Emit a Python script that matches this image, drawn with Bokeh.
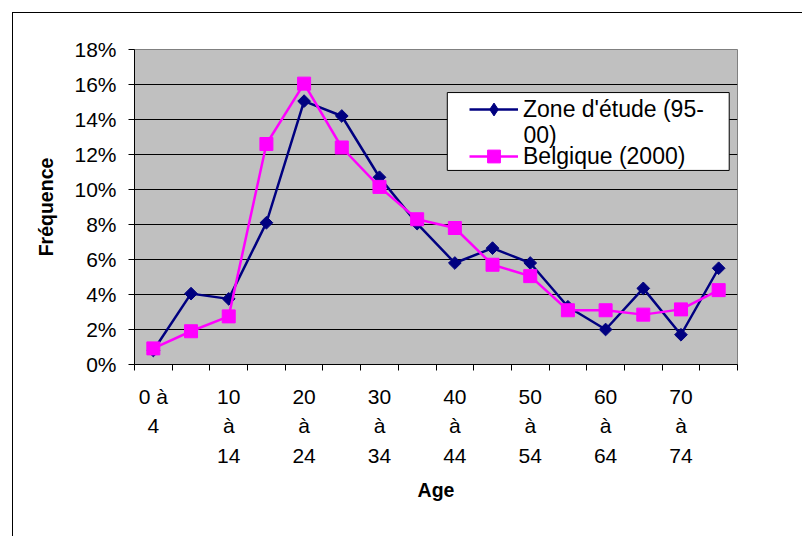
import numpy as np
from bokeh.plotting import figure
from bokeh.models import (FixedTicker, PrintfTickFormatter, Legend, LegendItem, Range1d,
                          ColumnDataSource, Label)
from bokeh.embed import file_html
from bokeh.resources import INLINE

# ---- data ----
age_groups = ["0-4", "5-9", "10-14", "15-19", "20-24", "25-29", "30-34", "35-39",
              "40-44", "45-49", "50-54", "55-59", "60-64", "65-69", "70-74", "75+"]
zone_etude = [0.8, 4.05, 3.75, 8.1, 15.05, 14.2, 10.7, 8.05,
              5.8, 6.65, 5.8, 3.3, 2.0, 4.35, 1.7, 5.5]
belgique = [0.92, 1.9, 2.75, 12.6, 16.05, 12.4, 10.15, 8.3,
            7.8, 5.7, 5.05, 3.1, 3.1, 2.85, 3.15, 4.25]
x_tick_labels = ["0 à\n4", "10\nà\n14", "20\nà\n24", "30\nà\n34",
                 "40\nà\n44", "50\nà\n54", "60\nà\n64", "70\nà\n74"]
y_ticks = [0, 2, 4, 6, 8, 10, 12, 14, 16, 18]
series_names = ["Zone d'étude (95-", "00)", "Belgique (2000)"]  # first name wraps onto 2 lines

FONT = "Liberation Sans"
n = len(age_groups)
x = np.arange(n) + 0.5
label_pos = [float(v) for v in x[::2]]

src1 = ColumnDataSource(dict(x=x, y=zone_etude))
src2 = ColumnDataSource(dict(x=x, y=belgique))

p = figure(width=790, height=524, x_range=Range1d(0, n), y_range=Range1d(0, y_ticks[-1]),
           output_backend="svg", toolbar_location=None,
           min_border_left=121, min_border_right=66, min_border_top=36, min_border_bottom=173,
           background_fill_color="#C0C0C0", border_fill_color="white",
           outline_line_color="#808080", outline_line_width=1)
p.styles = {"border-left": "1px solid black", "border-top": "1px solid black",
            "margin-left": "12px", "margin-top": "12px"}

# x axis
xa = p.xaxis[0]
xa.ticker = FixedTicker(ticks=label_pos, minor_ticks=list(range(n + 1)))
xa.major_label_overrides = {pos: lab for pos, lab in zip(label_pos, x_tick_labels)}
xa.major_tick_line_color = None
xa.major_tick_out = 0
xa.major_tick_in = 0
xa.minor_tick_line_color = "black"
xa.minor_tick_out = 6
xa.minor_tick_in = 0
xa.axis_line_color = "black"
xa.major_label_text_font = FONT
xa.major_label_text_font_size = "21px"
xa.major_label_text_color = "black"
xa.major_label_text_line_height = 1.3
xa.major_label_standoff = 14
xa.axis_label = "Age"
xa.axis_label_text_font = FONT
xa.axis_label_text_font_size = "19.5px"
xa.axis_label_text_font_style = "bold"
xa.axis_label_text_color = "black"
xa.axis_label_standoff = 9

# y axis
ya = p.yaxis[0]
ya.ticker = FixedTicker(ticks=y_ticks, minor_ticks=[])
ya.formatter = PrintfTickFormatter(format="%d%%")
ya.major_tick_out = 6
ya.major_tick_in = 0
ya.major_tick_line_color = "black"
ya.axis_line_color = "black"
ya.major_label_text_font = FONT
ya.major_label_text_font_size = "21px"
ya.major_label_text_color = "black"
ya.major_label_standoff = 12
ya.axis_label = "Fréquence"
ya.axis_label_text_font = FONT
ya.axis_label_text_font_size = "19.5px"
ya.axis_label_text_font_style = "bold"
ya.axis_label_text_color = "black"
ya.axis_label_standoff = 14

p.xgrid.visible = False
p.ygrid.ticker = FixedTicker(ticks=y_ticks[1:-1])
p.ygrid.grid_line_color = "black"
p.ygrid.grid_line_width = 1

# legend frame (white box behind the legend entries)
p.quad(left=[8.30], right=[15.78], bottom=[11.09], top=[15.54],
       fill_color="white", line_color="black", line_width=1)

# series
l1 = p.line("x", "y", source=src1, line_color="#000080", line_width=2.5)
m1 = p.scatter("x", "y", source=src1, marker="square", angle=np.pi / 4, size=9,
               fill_color="#000080", line_color="#000080")
l2 = p.line("x", "y", source=src2, line_color="#FF00FF", line_width=2.5)
m2 = p.scatter("x", "y", source=src2, marker="square", size=13,
               fill_color="#FF00FF", line_color="#FF00FF")
# diamond icon used only for the legend entry (renderer hidden in the plot)
m1_leg = p.scatter("x", "y", source=src1, marker="diamond",
                   fill_color="#000080", line_color="#000080", visible=False)

common = dict(orientation="vertical", label_text_font=FONT, label_text_font_size="23px",
              label_text_color="black", glyph_width=49, glyph_height=32, label_standoff=5,
              spacing=0, padding=0, margin=0, border_line_color=None,
              background_fill_alpha=0.0)
legend_a = Legend(items=[LegendItem(label=series_names[0], renderers=[l1, m1_leg])],
                  location=(335, 239), **common)
legend_b = Legend(items=[LegendItem(label=series_names[2], renderers=[l2, m2])],
                  location=(335, 192), **common)
p.add_layout(legend_a)
p.add_layout(legend_b)
p.add_layout(Label(x=10.32, y=13.09, text=series_names[1], text_font=FONT,
                   text_font_size="23px", text_color="black",
                   text_align="left", text_baseline="middle"))

open("out.html", "w").write(file_html(p, INLINE))
